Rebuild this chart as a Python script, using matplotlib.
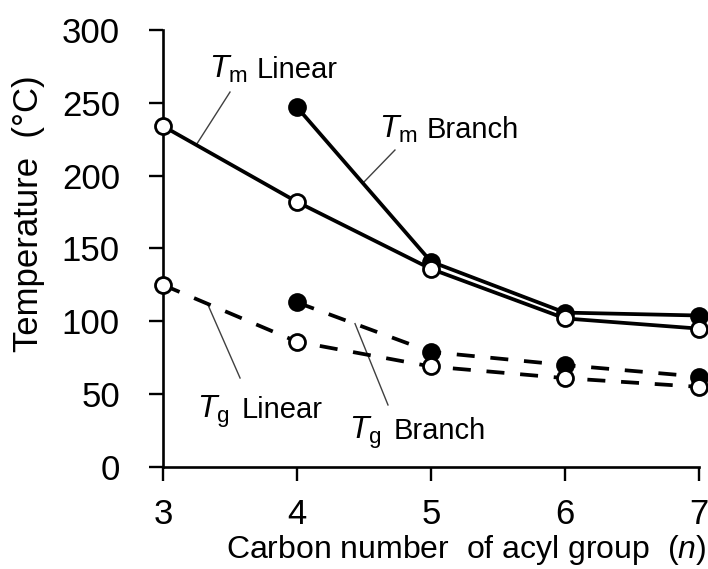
import matplotlib
matplotlib.use("Agg")
import matplotlib.pyplot as plt

plt.rcParams['font.family'] = ['Liberation Sans', 'DejaVu Sans']
plt.rcParams['mathtext.fontset'] = 'custom'
plt.rcParams['mathtext.rm'] = 'Liberation Sans'
plt.rcParams['mathtext.it'] = 'Liberation Sans:italic'

# ---- data ----
x_linear = [3, 4, 5, 6, 7]
x_branch = [4, 5, 6, 7]
tm_linear = [234, 182, 136, 102, 95]
tm_branch = [247, 141, 106, 104]
tg_linear = [125, 86, 69, 61, 55]
tg_branch = [113, 79, 70, 62]
x_ticks = [3, 4, 5, 6, 7]
y_ticks = [0, 50, 100, 150, 200, 250, 300]

fig = plt.figure(figsize=(7.08, 5.69), dpi=100)
ax = fig.add_axes([163/708, 1-467/569, (699-163)/708, (467-30)/569])

lw = 2.7
ms = 11.5
mew = 2.0
dash = (0, (4.8, 4.2))

# Branch first (drawn beneath), then Linear
ax.plot(x_branch, tm_branch, color='black', lw=lw, marker='o', ms=ms,
        mfc='black', mec='black', mew=mew, clip_on=False, zorder=3)
ax.plot(x_linear, tm_linear, color='black', lw=lw, marker='o', ms=ms,
        mfc='white', mec='black', mew=mew, clip_on=False, zorder=4)
ax.plot(x_branch, tg_branch, color='black', lw=lw, ls=dash, marker='o', ms=ms,
        mfc='black', mec='black', mew=mew, clip_on=False, zorder=3)
ax.plot(x_linear, tg_linear, color='black', lw=lw, ls=dash, marker='o', ms=ms,
        mfc='white', mec='black', mew=mew, clip_on=False, zorder=4)

ax.set_xlim(3, 7)
ax.set_ylim(0, 300)
ax.set_xticks(x_ticks)
ax.set_yticks(y_ticks)
ax.tick_params(axis='both', direction='out', length=10, width=1.7,
               labelsize=25, colors='black')
ax.tick_params(axis='y', pad=21)
ax.tick_params(axis='x', pad=12)
for s in ['top', 'right']:
    ax.spines[s].set_visible(False)
for s in ['left', 'bottom']:
    ax.spines[s].set_linewidth(1.9)
    ax.spines[s].set_color('black')

# annotations: symbol (T with subscript) and word placed separately
lead = dict(color='#404040', lw=1.0)


def label(xs, xw, yb, sub, word):
    ax.text(xs, yb, r'$T_{\mathrm{%s}}$' % sub, fontsize=23,
            va='baseline', ha='left')
    ax.text(xw, yb, word, fontsize=21, va='baseline', ha='left')


label(3.345, 3.700, 267, 'm', 'Linear')
ax.plot([3.50, 3.254], [257.4, 222], **lead)
label(4.613, 4.968, 226, 'm', 'Branch')
ax.plot([4.731, 4.493], [217.6, 195], **lead)
label(3.255, 3.588, 33.6, 'g', 'Linear')
ax.plot([3.336, 3.575], [111.2, 61.1], **lead)
label(4.390, 4.722, 19.2, 'g', 'Branch')
ax.plot([4.433, 4.679], [98.4, 42.6], **lead)

fig.text(29/708, 1-214/569, 'Temperature  (°C)', rotation=90, fontsize=25,
         ha='center', va='center')
fig.text(466/708, 1-558/569, r'Carbon number  of acyl group  ($\mathit{n}$)',
         fontsize=23, ha='center', va='baseline')

fig.savefig('out.png', dpi=100)
